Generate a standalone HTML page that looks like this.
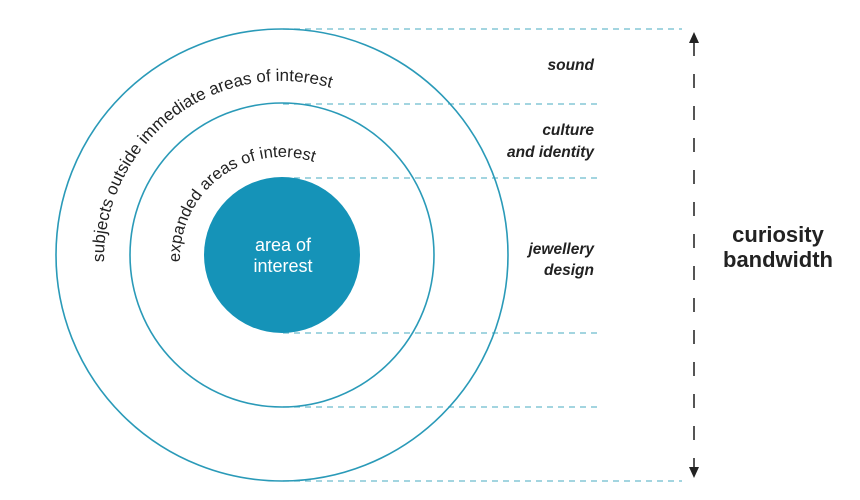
<!DOCTYPE html>
<html><head><meta charset="utf-8"><style>
html,body{margin:0;padding:0;background:#fff;}
svg{display:block;}
</style></head><body>
<svg width="860" height="500" viewBox="0 0 860 500" xmlns="http://www.w3.org/2000/svg" font-family="Liberation Sans, Arial, sans-serif">
<defs>
<path id="outerP" d="M 104 262 A 178 178 0 1 1 460 256"/>
<path id="midP" d="M 180 262 A 102 102 0 1 1 384 256"/>
</defs>
<g stroke="#6cbccd" stroke-width="1.3" stroke-dasharray="6 5" fill="none">
<line x1="283" y1="29" x2="682" y2="29"/>
<line x1="283" y1="104" x2="598" y2="104"/>
<line x1="283" y1="178" x2="598" y2="178"/>
<line x1="283" y1="333" x2="598" y2="333"/>
<line x1="283" y1="407" x2="598" y2="407"/>
<line x1="283" y1="481" x2="682" y2="481"/>
</g>
<circle cx="282" cy="255" r="226" fill="none" stroke="#2a9ab8" stroke-width="1.6"/>
<circle cx="282" cy="255" r="152" fill="none" stroke="#2a9ab8" stroke-width="1.6"/>
<circle cx="282" cy="255" r="78" fill="#1593b8"/>
<text font-size="18" fill="#fff" text-anchor="middle"><tspan x="283" y="251">area of</tspan><tspan x="283" y="272">interest</tspan></text>
<text font-size="17" fill="#222"><textPath href="#outerP">subjects outside immediate areas of interest</textPath></text>
<text font-size="16.5" fill="#222"><textPath href="#midP">expanded areas of interest</textPath></text>
<g font-size="15.5" font-weight="bold" font-style="italic" fill="#222" text-anchor="end">
<text x="594" y="70">sound</text>
<text x="594" y="135">culture</text>
<text x="594" y="157">and identity</text>
<text x="594" y="254">jewellery</text>
<text x="594" y="275">design</text>
</g>
<line x1="694" y1="42" x2="694" y2="468" stroke="#555" stroke-width="2" stroke-dasharray="14 18"/>
<path d="M694 32 L689 43 L699 43 Z" fill="#222"/>
<path d="M694 478 L689 467 L699 467 Z" fill="#222"/>
<g font-size="22" font-weight="bold" fill="#222" text-anchor="middle">
<text x="778" y="242">curiosity</text>
<text x="778" y="267">bandwidth</text>
</g>
</svg>
</body></html>
